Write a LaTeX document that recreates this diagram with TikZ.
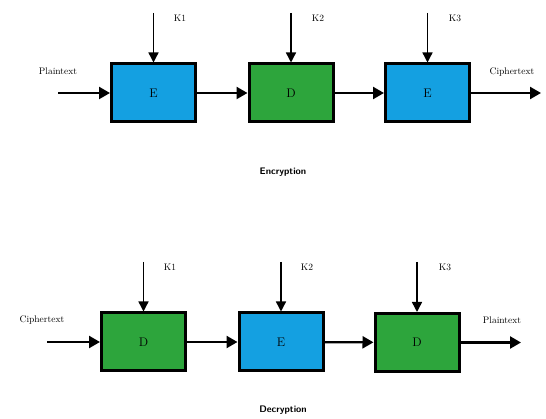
\documentclass[tikz,border=0pt]{standalone}
\usetikzlibrary{arrows.meta}
\definecolor{boxblue}{RGB}{20,160,225}
\definecolor{boxgreen}{RGB}{45,165,60}
\begin{document}
\begin{tikzpicture}[x=1pt,y=-1pt,
  blk/.style={draw=black,line width=3pt,minimum width=84pt,minimum height=58pt,inner sep=0pt,font=\fontsize{12.5}{14}\selectfont},
  eblk/.style={blk,fill=boxblue},
  dblk/.style={blk,fill=boxgreen},
  flow/.style={line width=2.3pt,-{Triangle[length=11pt,width=12pt]}},
  key/.style={line width=1.4pt,-{Triangle[length=10pt,width=10pt]}},
  lbl/.style={font=\fontsize{9.5}{11}\selectfont,inner sep=0pt},
  ttl/.style={font=\sffamily\bfseries\fontsize{9.5}{11}\selectfont,inner sep=0pt}]
\useasboundingbox (0,0) rectangle (546,419);
% Encryption row
\node[eblk] (e1) at (153.5,93) {E};
\node[dblk] (e2) at (291,93) {D};
\node[eblk] (e3) at (427.5,93) {E};
\coordinate (ein) at (58,93);
\coordinate (eout) at (541,93);
\coordinate (k1) at (153.5,13);
\coordinate (k2) at (291,13);
\coordinate (k3) at (427.5,13);
\draw[flow] (ein) -- (e1);
\draw[flow] (e1) -- (e2);
\draw[flow] (e2) -- (e3);
\draw[flow] (e3) -- (eout);
\draw[key] (k1) -- (e1.north);
\draw[key] (k2) -- (e2.north);
\draw[key] (k3) -- (e3.north);
\node[lbl] (k1l) at (180,18) {K1};
\node[lbl] (k2l) at (318,18) {K2};
\node[lbl] (k3l) at (455,18) {K3};
\node[lbl] (pt1) at (58,71) {Plaintext};
\node[lbl] (ct1) at (512,72) {Ciphertext};
\node[ttl] (enc) at (283,172) {Encryption};
% Decryption row
\node[dblk] (d1) at (143.5,342) {D};
\node[eblk] (d2) at (281,342) {E};
\node[dblk] (d3) at (417,342.5) {D};
\coordinate (din) at (47,342);
\coordinate (dout) at (521,342.5);
\coordinate (j1) at (143.5,262);
\coordinate (j2) at (281,262);
\coordinate (j3) at (417,262);
\draw[flow] (din) -- (d1);
\draw[flow] (d1) -- (d2);
\draw[flow] (d2) -- (d3);
\draw[flow] (d3) -- (dout);
\draw[key] (j1) -- (d1.north);
\draw[key] (j2) -- (d2.north);
\draw[key] (j3) -- (d3.north);
\node[lbl] (j1l) at (170,267) {K1};
\node[lbl] (j2l) at (307,267) {K2};
\node[lbl] (j3l) at (445,267) {K3};
\node[lbl] (ct2) at (42,320) {Ciphertext};
\node[lbl] (pt2) at (502,320) {Plaintext};
\node[ttl] (dec) at (283,410) {Decryption};
\end{tikzpicture}
\end{document}
